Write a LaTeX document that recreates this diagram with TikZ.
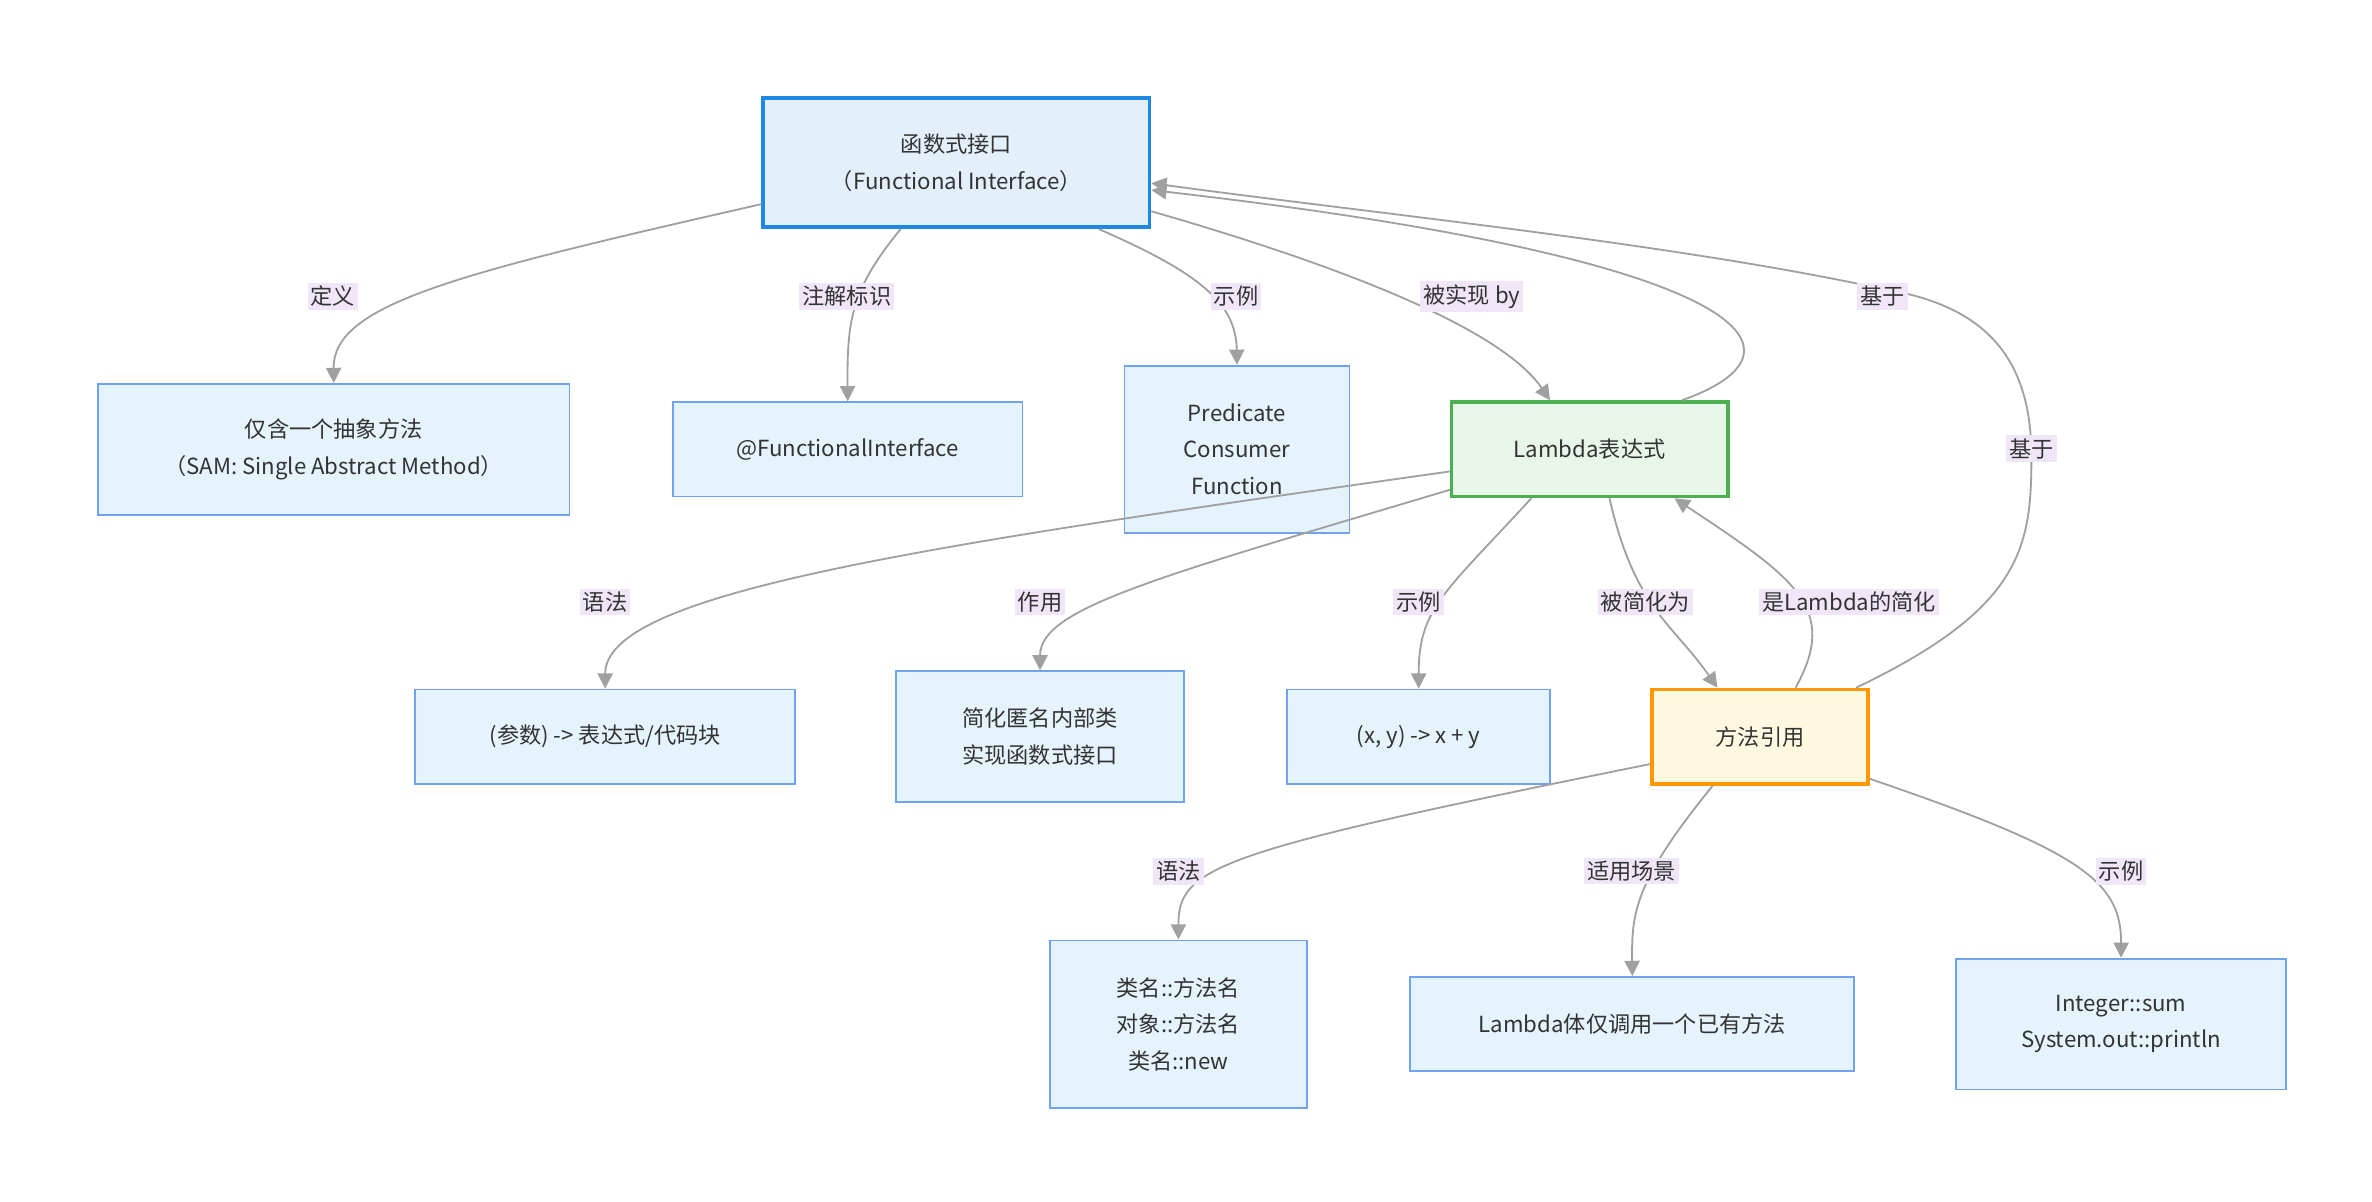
\documentclass[tikz,border=0pt]{standalone}
\usepackage{fontspec}
\setmainfont{Noto Sans CJK SC}
\usetikzlibrary{arrows.meta}
\definecolor{lb}{HTML}{E5F3FC}
\definecolor{lbd}{HTML}{6FA3F0}
\definecolor{lab}{HTML}{F1E6F8}
\definecolor{eg}{HTML}{A0A0A0}
\definecolor{fib}{HTML}{1E88E5}
\definecolor{fif}{HTML}{E3F0FC}
\definecolor{lgb}{HTML}{4CAF50}
\definecolor{lgf}{HTML}{E8F5E9}
\definecolor{mrb}{HTML}{FF9800}
\definecolor{mrf}{HTML}{FFF8E1}
\begin{document}
\begin{tikzpicture}[x=0.5pt,y=-0.5pt,
 box/.style={draw=lbd,fill=lb,line width=0.6pt,align=center,font=\fontsize{7.3pt}{12pt}\selectfont,text=black!80,inner sep=0pt},
 edge/.style={draw=eg,line width=0.6pt,-{Triangle[length=5pt,width=5pt]}},
 lbl/.style={fill=lab,inner sep=1pt,font=\fontsize{7.3pt}{9pt}\selectfont,text=black!80}]
\useasboundingbox (0,0) rectangle (1560,790);
\node[box,draw=fib,fill=fif,line width=1.2pt,minimum width=127pt,minimum height=42.5pt] (FI) at (629,107) {函数式接口\\（Functional Interface）};
\node[box,minimum width=155pt,minimum height=43pt] (SAM) at (219.5,295.5) {仅含一个抽象方法\\（SAM: Single Abstract Method）};
\node[box,minimum width=115pt,minimum height=31pt] (Ann) at (557.5,295.5) {@FunctionalInterface};
\node[box,minimum width=74pt,minimum height=55pt] (PCF) at (813.5,295.5) {Predicate\\Consumer\\Function};
\node[box,minimum width=125pt,minimum height=31pt] (SYN) at (398,484.5) {(参数) -> 表达式/代码块};
\node[box,minimum width=94.5pt,minimum height=43pt] (ANON) at (684,484.5) {简化匿名内部类\\实现函数式接口};
\node[box,minimum width=86.5pt,minimum height=31pt] (EX) at (933,484.5) {(x, y) -> x + y};
\node[box,minimum width=84.5pt,minimum height=55pt] (MS) at (775,673.5) {类名::方法名\\对象::方法名\\类名::new};
\node[box,minimum width=146pt,minimum height=31pt] (SC) at (1073.5,673.5) {Lambda体仅调用一个已有方法};
\node[box,minimum width=108.5pt,minimum height=43pt] (ME) at (1395,673.5) {Integer::sum\\System.out::println};
% edges
\draw[edge] (FI.192) .. controls (300,180) and (219,200) .. (SAM.north);
\draw[edge] (FI.230) .. controls (560,190) and (557,210) .. (Ann.north);
\draw[edge] (FI.-25) .. controls (790,180) and (813,200) .. (PCF.north);
\draw[edge] (954,310) .. controls (600,360) and (398,390) .. (SYN.north);
\draw[edge] (954,322) .. controls (760,380) and (684,400) .. (ANON.north);
\node[box,draw=lgb,fill=lgf,line width=1.2pt,minimum width=91pt,minimum height=31pt] (L) at (1045.5,295.5) {Lambda表达式};
\node[box,draw=mrb,fill=mrf,line width=1.2pt,minimum width=71pt,minimum height=31pt] (MR) at (1157.5,484.5) {方法引用};
\draw[edge] (FI.-14) .. controls (900,180) and (990,220) .. (L.129);
\draw[edge] (L.28) .. controls (1200,230) and (1150,170) .. (FI.-8);
\draw[edge] (MR.27) .. controls (1330,400) and (1336,360) .. (1336,300) .. controls (1336,230) and (1300,200) .. (1238,190) .. controls (1100,160) and (900,140) .. (FI.-6);
\draw[edge] (L.220) .. controls (950,390) and (933,400) .. (EX.north);
\draw[edge] (L.-68) .. controls (1075,400) and (1100,410) .. (MR.131);
\draw[edge] (MR.54) .. controls (1210,400) and (1180,380) .. (L.-30);
\draw[edge] (MR.194) .. controls (800,560) and (775,570) .. (MS.north);
\draw[edge] (MR.226) .. controls (1075,580) and (1073,600) .. (SC.north);
\draw[edge] (MR.-21) .. controls (1370,560) and (1395,580) .. (ME.north);
% labels
\node[lbl] (l1) at (219,195) {定义};
\node[lbl] (l2) at (557,195) {注解标识};
\node[lbl] (l3) at (813,195) {示例};
\node[lbl] (l4) at (968,195) {被实现 by};
\node[lbl] (l5) at (1238,195) {基于};
\node[lbl] (l6) at (1336,295) {基于};
\node[lbl] (l7) at (398,396) {语法};
\node[lbl] (l8) at (684,396) {作用};
\node[lbl] (l9) at (933,396) {示例};
\node[lbl] (l10) at (1082,396) {被简化为};
\node[lbl] (l11) at (1216,396) {是Lambda的简化};
\node[lbl] (l12) at (775,573) {语法};
\node[lbl] (l13) at (1073,573) {适用场景};
\node[lbl] (l14) at (1395,573) {示例};
\end{tikzpicture}
\end{document}
